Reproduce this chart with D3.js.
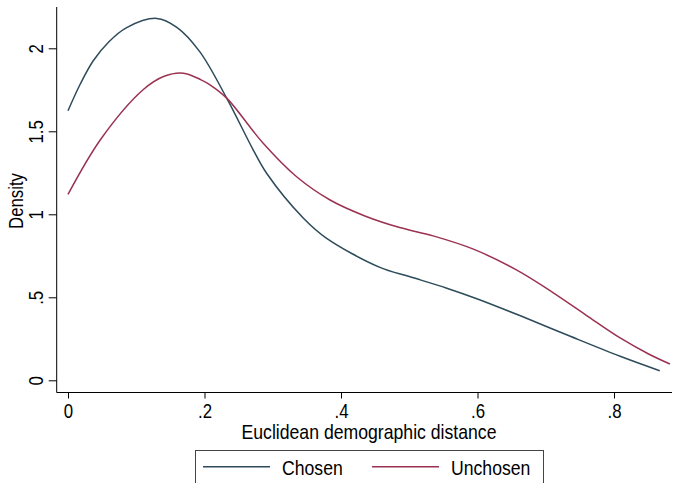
<!DOCTYPE html>
<html>
<head>
<meta charset="utf-8">
<script src="https://cdn.jsdelivr.net/npm/d3@7"></script>
<style>
    body { margin: 0; background: #fff; }
    svg text { font-family: "Liberation Sans Narrow", "Arial Narrow", "Liberation Sans", sans-serif; fill: #000; }
</style>
</head>
<body>
<svg id="chart" width="680" height="483"></svg>
<script>
// kernel density curves
var chosenX = [0, 0.018, 0.037, 0.06, 0.086, 0.13, 0.16, 0.193, 0.2325, 0.2715, 0.291, 0.345, 0.379, 0.457, 0.5, 0.555, 0.6, 0.662, 0.736, 0.809, 0.867];
var chosenY = [1.624, 1.785, 1.925, 2.04, 2.125, 2.18, 2.125, 1.98, 1.70, 1.387, 1.247, 0.976, 0.855, 0.68, 0.625, 0.555, 0.49, 0.39, 0.265, 0.145, 0.058];
var unchosenX = [0, 0.049, 0.11, 0.14, 0.169, 0.195, 0.208, 0.2325, 0.286, 0.335, 0.384, 0.435, 0.486, 0.535, 0.594, 0.657, 0.71, 0.76, 0.809, 0.85, 0.882];
var unchosenY = [1.12, 1.458, 1.75, 1.83, 1.85, 1.81, 1.78, 1.70, 1.428, 1.226, 1.086, 0.99, 0.92, 0.87, 0.79, 0.665, 0.53, 0.39, 0.255, 0.16, 0.098];

var xTicks = [0, 0.2, 0.4, 0.6, 0.8];
var xTickLabels = ["0", ".2", ".4", ".6", ".8"];
var yTicks = [0, 0.5, 1, 1.5, 2];
var yTickLabels = ["0", ".5", "1", "1.5", "2"];
var seriesNames = ["Chosen", "Unchosen"];
var seriesColors = ["#2d4b5a", "#9a3251"];

var svg = d3.select("#chart");

var x = d3.scaleLinear().domain([0, 0.8]).range([68, 614]);
var y = d3.scaleLinear().domain([0, 2]).range([380.3, 48.3]);

var left = 56.7, bottom = 392.5;

// squeeze text to look like a narrow font
function narrow(sel, f) {
    sel.each(function () {
        var len = this.getComputedTextLength();
        d3.select(this)
            .attr("textLength", len * f)
            .attr("lengthAdjust", "spacingAndGlyphs");
    });
}

// axis lines
svg.append("line")
    .attr("x1", left).attr("x2", left)
    .attr("y1", 7).attr("y2", bottom)
    .attr("stroke", "#000").attr("stroke-width", 1);
svg.append("line")
    .attr("x1", left).attr("x2", 672)
    .attr("y1", bottom).attr("y2", bottom)
    .attr("stroke", "#000").attr("stroke-width", 1);

// y axis
var yAxis = d3.axisLeft(y)
    .tickValues(yTicks)
    .tickSize(8)
    .tickFormat(function (d, i) { return yTickLabels[i]; });
var gy = svg.append("g")
    .attr("transform", "translate(" + left + ",0)")
    .call(yAxis);
gy.select(".domain").remove();
gy.selectAll(".tick line").attr("stroke", "#000");
gy.selectAll(".tick text")
    .attr("x", 0).attr("dy", 0)
    .attr("transform", "translate(-14,0) rotate(-90)")
    .attr("text-anchor", "middle")
    .attr("font-size", 20)
    .call(narrow, 0.84);

// x axis
var xAxis = d3.axisBottom(x)
    .tickValues(xTicks)
    .tickSize(6)
    .tickFormat(function (d, i) { return xTickLabels[i]; });
var gx = svg.append("g")
    .attr("transform", "translate(0," + bottom + ")")
    .call(xAxis);
gx.select(".domain").remove();
gx.selectAll(".tick line").attr("stroke", "#000");
gx.selectAll(".tick text")
    .attr("y", 0).attr("dy", 0)
    .attr("transform", "translate(0,25.5)")
    .attr("font-size", 20)
    .call(narrow, 0.84);

// titles
svg.append("text")
    .attr("transform", "translate(23,201) rotate(-90)")
    .attr("text-anchor", "middle")
    .attr("font-size", 20)
    .text("Density")
    .call(narrow, 0.84);
svg.append("text")
    .attr("x", 369).attr("y", 439)
    .attr("text-anchor", "middle")
    .attr("font-size", 21)
    .text("Euclidean demographic distance")
    .call(narrow, 0.84);

// curves
var line = d3.line()
    .x(function (d) { return x(d[0]); })
    .y(function (d) { return y(d[1]); })
    .curve(d3.curveCatmullRom.alpha(0.5));

var series = [d3.zip(chosenX, chosenY), d3.zip(unchosenX, unchosenY)];
svg.selectAll(".curve")
    .data(series)
    .enter().append("path")
    .attr("class", "curve")
    .attr("d", line)
    .attr("fill", "none")
    .attr("stroke", function (d, i) { return seriesColors[i]; })
    .attr("stroke-width", 1.5);

// legend
svg.append("rect")
    .attr("x", 195.5).attr("y", 450.5)
    .attr("width", 348).attr("height", 45)
    .attr("fill", "#fff")
    .attr("stroke", "#444").attr("stroke-width", 1);
var legendX = [203, 372];
seriesNames.forEach(function (name, i) {
    svg.append("line")
        .attr("x1", legendX[i]).attr("x2", legendX[i] + 67)
        .attr("y1", 466.7).attr("y2", 466.7)
        .attr("stroke", seriesColors[i]).attr("stroke-width", 1.5);
    svg.append("text")
        .attr("x", legendX[i] + 79).attr("y", 474.5)
        .attr("font-size", 21)
        .text(name)
        .call(narrow, 0.84);
});
</script>
</body>
</html>
